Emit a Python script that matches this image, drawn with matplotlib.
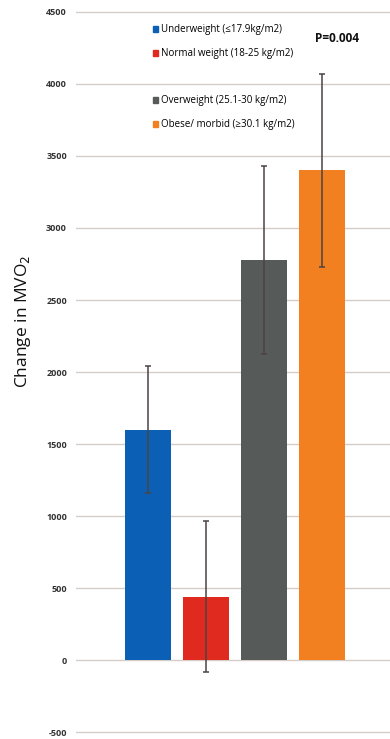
import matplotlib
matplotlib.use("Agg")
import matplotlib.pyplot as plt
from matplotlib.patches import Patch

categories = ["Underweight (\u226417.9kg/m2)", "Normal weight (18-25 kg/m2)",
              "Overweight (25.1-30 kg/m2)", "Obese/ morbid (\u226530.1 kg/m2)"]
values = [1600, 440, 2780, 3400]
errors = [443, 525, 653, 672]
colors = ["#0b5fb4", "#e0291f", "#565b5a", "#f38020"]
yticks = [-500, 0, 500, 1000, 1500, 2000, 2500, 3000, 3500, 4000, 4500]
pvalue_text = "P=0.004"

plt.rcParams['font.family'] = ['Open Sans', 'DejaVu Sans']

fig = plt.figure(figsize=(3.9, 7.39), dpi=100)
ax = fig.add_axes([0.195, 0.0016, 0.805, 0.99])

x = list(range(len(values)))
ax.bar(x, values, width=0.793, color=colors, zorder=2)
ax.errorbar(x, values, yerr=errors, fmt="none", ecolor="#4a4443",
            elinewidth=1.1, capsize=2, capthick=1.1, zorder=3)

ax.set_xlim(-1.241, 4.172)
ax.set_ylim(-540, 4540)
ax.set_yticks(yticks)
ax.set_yticklabels([str(t) for t in yticks], fontsize=6.5, color="#333333",
                   fontweight="bold")
ax.tick_params(axis="y", length=0, pad=6.5)
ax.set_xticks([])
for s in ax.spines.values():
    s.set_visible(False)
for t in yticks:
    ax.axhline(t, color="#d6ccc8", lw=1.0, zorder=1)

fig.text(0.058, 0.565, "Change in MVO$_2$", rotation=90, fontsize=12.5,
         ha="center", va="center", color="#111111")

handles1 = [Patch(color=colors[0], label=categories[0]),
            Patch(color=colors[1], label=categories[1])]
handles2 = [Patch(color=colors[2], label=categories[2]),
            Patch(color=colors[3], label=categories[3])]
common = dict(frameon=False, fontsize=7, handlelength=0.55, handleheight=0.55,
              handletextpad=0.3, labelspacing=1.3, borderpad=0, borderaxespad=0,
              loc="upper left")
leg1 = ax.legend(handles=handles1, bbox_to_anchor=(0.245, 0.975), **common)
ax.add_artist(leg1)
ax.legend(handles=handles2, bbox_to_anchor=(0.245, 0.878), **common)

ax.text(0.76, 0.9565, pvalue_text, transform=ax.transAxes, fontsize=8.5,
        fontweight="bold", color="#111111", ha="left", va="center")

fig.savefig("out.png", dpi=100)
